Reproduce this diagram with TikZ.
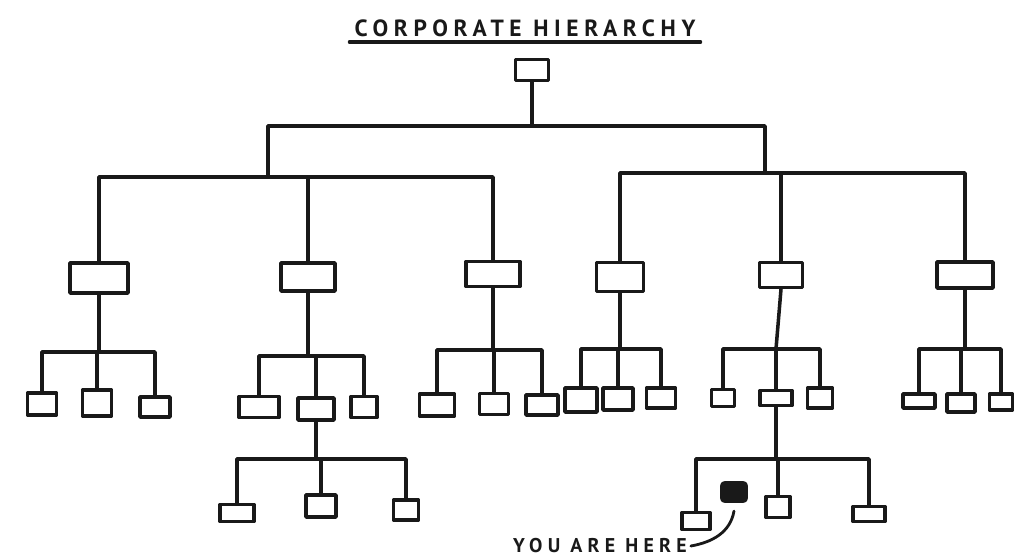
\documentclass[tikz,border=0pt]{standalone}
\usepackage{fontspec}
\newfontfamily\handfont[LetterSpace=24]{PT Sans}
\newfontfamily\notefont[LetterSpace=26]{PT Sans}
\usepackage{tikz}
\usetikzlibrary{positioning}

\begin{document}
\begin{tikzpicture}[x=0.03cm, y=-0.03cm,
    line width=3pt, line cap=round, line join=round, color=black!90,
    box/.style 2 args={draw, inner sep=0pt, minimum width=#1*0.03cm, minimum height=#2*0.03cm},
    you/.style={draw, fill, rounded corners=2pt, inner sep=0pt, minimum width=0.72cm, minimum height=0.54cm}]
    \useasboundingbox (0,0) rectangle (1022,559);

    % Title
    \node[font=\handfont\bfseries\fontsize{20}{22}\selectfont, anchor=south, inner sep=3pt, minimum width=10.35cm] (title) at (525,42) {CORPORATE HIERARCHY};
    \draw[line width=2.6pt] (title.south west) -- (title.south east);

    % Top
    \node[box={33}{21}] (top) at (532,70) {};
    \coordinate (j0) at (532,126);
    \coordinate (jl) at (268,177);
    \coordinate (jr) at (765,173);
    \draw (top.south) -- (top |- j0);
    \draw (jl) |- (j0) -| (jr);

    % Heads
    \node[box={58}{30}] (h1) at (99,278) {};
    \node[box={54}{28}] (h2) at (308,277) {};
    \node[box={54}{25}] (h3) at (493,274) {};
    \node[box={47}{29}] (h4) at (620,277) {};
    \node[box={43}{25}] (h5) at (781,275) {};
    \node[box={56}{26}] (h6) at (965,275) {};
    \draw (h1.north) |- (jl) -| (h3.north);
    \draw (h2.north) -- (h2 |- jl);
    \draw (h4.north) |- (jr) -| (h6.north);
    \draw (h5.north) -- (h5 |- jr);

    % Group 1
    \node[box={29}{22}] (a1) at (42,404) {};
    \node[box={29}{26}] (b1) at (97,403) {};
    \node[box={30}{20}] (c1) at (155,407) {};
    \coordinate (g1) at (97,352);
    \draw (a1.north) |- (g1) -| (c1.north);
    \draw (h1.south) -- (h1 |- g1);
    \draw (b1.north) -- (b1 |- g1);

    % Group 2
    \node[box={40}{21}] (a2) at (259,407) {};
    \node[box={36}{22}] (b2) at (316,409) {};
    \node[box={26}{21}] (c2) at (364,407) {};
    \coordinate (g2) at (310,356);
    \draw (a2.north) |- (g2) -| (c2.north);
    \draw (h2.south) -- (h2 |- g2);
    \draw (b2.north) -- (b2 |- g2);

    % Group 2, one level down
    \node[box={34}{17}] (a7) at (237,513) {};
    \node[box={30}{22}] (b7) at (321,506) {};
    \node[box={25}{20}] (c7) at (406,510) {};
    \coordinate (g7) at (318,459);
    \draw (a7.north) |- (g7) -| (c7.north);
    \draw (b2.south) -- (b2 |- g7);
    \draw (b7.north) -- (b7 |- g7);

    % Group 3
    \node[box={35}{22}] (a3) at (437,405) {};
    \node[box={29}{21}] (b3) at (494,404) {};
    \node[box={32}{20}] (c3) at (542,405) {};
    \coordinate (g3) at (493,350);
    \draw (a3.north) |- (g3) -| (c3.north);
    \draw (h3.south) -- (h3 |- g3);
    \draw (b3.north) -- (b3 |- g3);

    % Group 4
    \node[box={32}{24}] (a4) at (581,400) {};
    \node[box={30}{22}] (b4) at (618,399) {};
    \node[box={29}{20}] (c4) at (661,398) {};
    \coordinate (g4) at (618,349);
    \draw (a4.north) |- (g4) -| (c4.north);
    \draw (h4.south) -- (h4 |- g4);
    \draw (b4.north) -- (b4 |- g4);

    % Group 5
    \node[box={23}{17}] (a5) at (723,398) {};
    \node[box={32}{15}] (b5) at (776,398) {};
    \node[box={25}{20}] (c5) at (820,398) {};
    \coordinate (g5) at (776,349);
    \draw (a5.north) |- (g5) -| (c5.north);
    \draw (h5.south) -- (g5);
    \draw (b5.north) -- (b5 |- g5);

    % Group 5, one level down
    \node[box={28}{17}] (a8) at (696,521) {};
    \node[you] (me) at (734,492) {};
    \node[box={24}{21}] (b8) at (778,507) {};
    \node[box={32}{15}] (c8) at (869,514) {};
    \coordinate (g8) at (777,459);
    \draw (a8.north) |- (g8) -| (c8.north);
    \draw (b5.south) -- (b5 |- g8);
    \draw (b8.north) -- (b8 |- g8);

    % Group 6
    \node[box={32}{14}] (a6) at (919,401) {};
    \node[box={28}{18}] (b6) at (961,403) {};
    \node[box={23}{16}] (c6) at (1001,402) {};
    \coordinate (g6) at (961,349);
    \draw (a6.north) |- (g6) -| (c6.north);
    \draw (h6.south) -- (h6 |- g6);
    \draw (b6.north) -- (b6 |- g6);

    % You are here
    \node[font=\notefont\bfseries\fontsize{17}{19}\selectfont, inner sep=2pt] (here) at (600,546) {YOU ARE HERE};
    \draw[line width=2.4pt] ([yshift=-0.25cm]me.south) to[out=-100, in=10] (here.east);
\end{tikzpicture}
\end{document}
